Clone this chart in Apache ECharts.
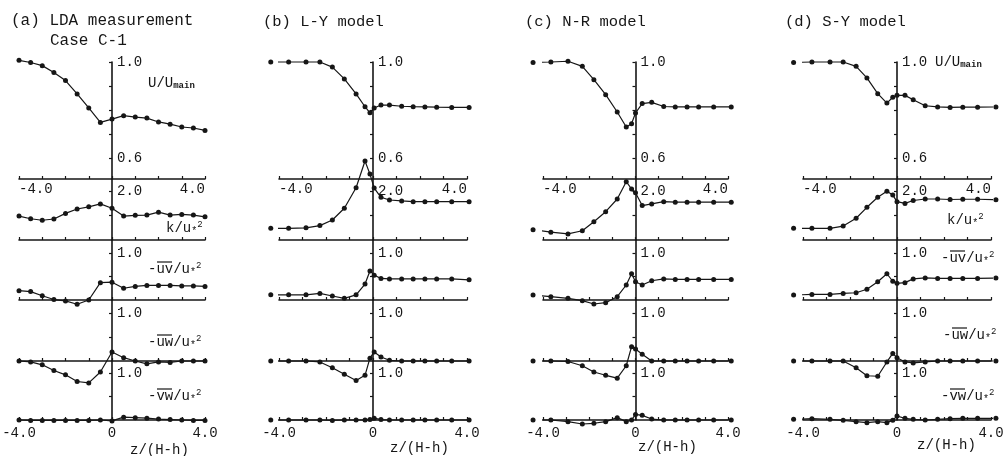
<!DOCTYPE html>
<html>
<head>
<meta charset="utf-8">
<title>Mixing layer profiles</title>
<script src="https://cdn.jsdelivr.net/npm/echarts@6/dist/echarts.min.js"></script>
<style>
  html, body { margin: 0; padding: 0; background: #fff; }
  #chart { width: 1003px; height: 456px; }
</style>
</head>
<body>
<div id="chart"></div>
<script>
// z/(H-h) positions and profiles
// (a) LDA measurement
var zA = [-4, -3.5, -3, -2.5, -2, -1.5, -1, -0.5, 0, 0.5, 1, 1.5, 2, 2.5, 3, 3.5, 4];
var uA = [1.007, 0.998, 0.985, 0.957, 0.923, 0.868, 0.81, 0.75, 0.764, 0.778, 0.772, 0.768, 0.752, 0.743, 0.731, 0.727, 0.717];
var kA = [0.98, 0.87, 0.81, 0.86, 1.09, 1.27, 1.36, 1.48, 1.3, 0.98, 1.01, 1.02, 1.14, 1.02, 1.05, 1.02, 0.95];
var uvA = [0.2, 0.18, 0.09, 0.01, -0.02, -0.09, 0, 0.37, 0.38, 0.25, 0.29, 0.31, 0.31, 0.31, 0.3, 0.3, 0.29];
var uwA = [0, -0.02, -0.08, -0.2, -0.29, -0.43, -0.46, -0.23, 0.19, 0.07, 0, -0.06, -0.02, -0.03, 0, 0, 0];
var vwA = [0, -0.01, -0.01, -0.01, -0.01, -0.01, -0.01, 0, -0.02, 0.06, 0.05, 0.04, 0.02, 0.01, 0, -0.01, -0.01];

// (b) L-Y model
var zB = [-4.35, -3.59, -2.85, -2.26, -1.73, -1.22, -0.72, -0.34, -0.13, 0.05, 0.34, 0.7, 1.22, 1.71, 2.21, 2.71, 3.35, 4.09];
var uB = [1.0, 1.0, 1.0, 1.0, 0.979, 0.93, 0.868, 0.815, 0.79, 0.81, 0.822, 0.822, 0.817, 0.815, 0.814, 0.813, 0.812, 0.812];
var kB = [0.48, 0.48, 0.5, 0.59, 0.82, 1.3, 2.14, 3.24, 2.7, 2.13, 1.75, 1.64, 1.6, 1.57, 1.57, 1.57, 1.57, 1.57];
var uvB = [0.11, 0.11, 0.11, 0.14, 0.085, 0.036, 0.11, 0.34, 0.62, 0.53, 0.46, 0.45, 0.45, 0.45, 0.45, 0.45, 0.45, 0.43];
var uwB = [0, 0, 0, -0.02, -0.14, -0.28, -0.41, -0.3, 0.06, 0.19, 0.085, 0.015, 0, 0, 0, 0, 0, 0];
var vwB = [0, 0, 0, 0, -0.01, 0, 0, 0, 0.01, 0.04, 0.01, 0, 0, 0, 0, 0, 0, 0];

// (c) N-R model
var zC = [-4.43, -3.66, -2.92, -2.3, -1.8, -1.29, -0.79, -0.4, -0.17, 0, 0.29, 0.7, 1.22, 1.72, 2.23, 2.73, 3.38, 4.14];
var uC = [0.998, 1.0, 1.003, 0.982, 0.927, 0.865, 0.793, 0.731, 0.745, 0.789, 0.828, 0.833, 0.816, 0.814, 0.814, 0.814, 0.814, 0.814];
var kC = [0.42, 0.32, 0.25, 0.38, 0.75, 1.16, 1.68, 2.39, 2.09, 1.94, 1.41, 1.48, 1.57, 1.55, 1.55, 1.55, 1.55, 1.55];
var uvC = [0.107, 0.07, 0.036, -0.014, -0.085, -0.057, 0.07, 0.32, 0.56, 0.39, 0.32, 0.41, 0.45, 0.44, 0.44, 0.44, 0.44, 0.44];
var uwC = [0, 0, -0.01, -0.1, -0.23, -0.3, -0.36, -0.1, 0.3, 0.25, 0.14, 0, 0, 0, 0, 0, 0, 0];
var vwC = [0, 0, -0.035, -0.085, -0.07, -0.035, 0.05, -0.035, 0, 0.12, 0.1, 0.02, 0, 0, 0, 0, 0, 0];

// (d) S-Y model
var zD = [-4.4, -3.62, -2.85, -2.29, -1.74, -1.28, -0.82, -0.43, -0.18, 0, 0.34, 0.69, 1.2, 1.73, 2.26, 2.8, 3.43, 4.21];
var uD = [0.998, 1.0, 1.0, 1.0, 0.982, 0.934, 0.869, 0.83, 0.854, 0.862, 0.862, 0.844, 0.819, 0.814, 0.812, 0.813, 0.813, 0.814];
var kD = [0.48, 0.48, 0.48, 0.57, 0.89, 1.34, 1.75, 2.0, 1.84, 1.57, 1.5, 1.62, 1.68, 1.68, 1.66, 1.67, 1.67, 1.65];
var uvD = [0.106, 0.12, 0.12, 0.14, 0.155, 0.23, 0.39, 0.56, 0.4, 0.355, 0.37, 0.45, 0.47, 0.46, 0.46, 0.46, 0.46, 0.47];
var uwD = [0, 0, 0, 0, -0.14, -0.31, -0.32, -0.02, 0.16, 0.07, -0.02, -0.04, -0.02, 0, 0, 0, 0, 0];
var vwD = [0.014, 0.028, 0.014, -0.007, -0.035, -0.057, -0.035, -0.057, -0.007, 0.085, 0.035, 0.014, 0, 0.014, 0.028, 0.035, 0.035, 0.035];

var titles = ['(a) LDA measurement', '(b) L-Y model', '(c) N-R model', '(d) S-Y model'];

// y axis ranges, labelled values and tick values for the five stacked rows
var rowRange = [[0.516, 1.0], [0, 2.5], [0, 1.28], [0, 1.28], [0, 1.26]];
var rowLabels = [[0.6, 1.0], [2.0], [1.0], [1.0], [1.0]];
var rowTicks = [[0.6, 0.7, 0.8, 0.9, 1.0], [1.0, 2.0], [0.5, 1.0], [0.5, 1.0], [0.5, 1.0]];
var zTicks = [-4, -3, -2, -1, 0, 1, 2, 3, 4];

var panels = [
  { z: zA, rows: [uA, kA, uvA, uwA, vwA] },
  { z: zB, rows: [uB, kB, uvB, uwB, vwB] },
  { z: zC, rows: [uC, kC, uvC, uwC, vwC] },
  { z: zD, rows: [uD, kD, uvD, uwD, vwD] }
];

// layout (pixels)
var panelX = [[19, 205], [279, 467], [543, 728], [803, 991]];
var rowBands = [[62, 179], [179, 240], [240, 300], [300, 361], [361, 420]];

var ink = '#161616';
var mono = '"Liberation Mono", "DejaVu Sans Mono", monospace';

var grids = [], xAxes = [], yAxes = [], series = [];

panels.forEach(function (p, pi) {
  var w = panelX[pi][1] - panelX[pi][0];
  p.rows.forEach(function (vals, ri) {
    var idx = pi * 5 + ri;
    grids.push({
      left: panelX[pi][0],
      width: w,
      top: rowBands[ri][0],
      height: rowBands[ri][1] - rowBands[ri][0],
      containLabel: false,
      outerBoundsMode: 'none'
    });

    var xLabel = { show: false };
    if (ri === 0) {
      xLabel = {
        show: true, customValues: [-4, 4], margin: 3,
        alignMinLabel: 'left', alignMaxLabel: 'right',
        formatter: function (v) { return v.toFixed(1); },
        fontFamily: mono, fontSize: 14, color: ink
      };
    } else if (ri === 4) {
      xLabel = {
        show: true, customValues: [-4, 0, 4], margin: 6,
        formatter: function (v) { return v === 0 ? '0' : v.toFixed(1); },
        fontFamily: mono, fontSize: 14, color: ink
      };
    }
    xAxes.push({
      type: 'value', gridIndex: idx, min: -4, max: 4, interval: 1,
      axisLine: { onZero: true, lineStyle: { color: ink, width: 1.6 } },
      axisTick: { show: true, inside: true, length: 3, customValues: zTicks, lineStyle: { color: ink, width: 1.2 } },
      splitLine: { show: false },
      axisLabel: xLabel
    });

    // the vertical axis sits at z = 0, the middle of the grid
    yAxes.push({
      type: 'value', gridIndex: idx, min: rowRange[ri][0], max: rowRange[ri][1],
      position: 'left', offset: -w / 2,
      axisLine: { onZero: false, lineStyle: { color: ink, width: 1.6 } },
      axisTick: { customValues: rowTicks[ri], length: 3, lineStyle: { color: ink, width: 1.2 } },
      splitLine: { show: false },
      axisLabel: {
        inside: true, customValues: rowLabels[ri], margin: 5,
        formatter: function (v) { return v.toFixed(1); },
        fontFamily: mono, fontSize: 14, color: ink
      }
    });

    series.push({
      type: 'line', xAxisIndex: idx, yAxisIndex: idx,
      data: p.z.map(function (z, i) { return [z, vals[i]]; }),
      symbol: 'circle', symbolSize: 5, clip: false, silent: true,
      lineStyle: { color: ink, width: 1.2 },
      itemStyle: { color: ink }
    });
  });
});

// text labels
var rich = {
  n: { fontFamily: mono, fontSize: 14, fill: ink },
  main: { fontFamily: mono, fontSize: 9, fontWeight: 'bold', fill: ink, padding: [6, 0, 0, 0] },
  sub: { fontFamily: mono, fontSize: 10, fill: ink, padding: [6, 0, 0, 0] },
  sup: { fontFamily: mono, fontSize: 9, fill: ink, padding: [0, 0, 7, 0] }
};
function label(x, y, text) {
  return { type: 'text', x: x, y: y, style: { text: text, rich: rich, align: 'left', verticalAlign: 'middle' } };
}
function bar(x, y) {
  // overline across the two velocity components, e.g. -uv
  return { type: 'line', shape: { x1: x + 9, y1: y - 7, x2: x + 24, y2: y - 7 }, style: { stroke: ink, lineWidth: 1.2 } };
}
function plain(x, y, text, size) {
  return { type: 'text', x: x, y: y, style: { text: text, fontFamily: mono, fontSize: size, fill: ink, align: 'left', verticalAlign: 'middle' } };
}

var graphics = [
  plain(11, 21, titles[0], 16),
  plain(50, 41, 'Case C-1', 16),
  plain(263, 22, titles[1], 15.5),
  plain(525, 22, titles[2], 15.5),
  plain(785, 22, titles[3], 15.5),
  plain(130, 450, 'z/(H-h)', 14),
  plain(390, 448, 'z/(H-h)', 14),
  plain(638, 447, 'z/(H-h)', 14),
  plain(917, 445, 'z/(H-h)', 14)
];

// row quantity labels in panels (a) and (d)
[[148, 166, 148, 148, 148, [83, 228, 269, 342, 396]],
 [935, 947, 941, 943, 941, [62, 220, 258, 335, 396]]].forEach(function (L) {
  var ys = L[5];
  graphics.push(label(L[0], ys[0], '{n|U/U}{main|main}'));
  graphics.push(label(L[1], ys[1], '{n|k/u}{sub|*}{sup|2}'));
  graphics.push(label(L[2], ys[2], '{n|-uv/u}{sub|*}{sup|2}'));
  graphics.push(bar(L[2], ys[2]));
  graphics.push(label(L[3], ys[3], '{n|-uw/u}{sub|*}{sup|2}'));
  graphics.push(bar(L[3], ys[3]));
  graphics.push(label(L[4], ys[4], '{n|-vw/u}{sub|*}{sup|2}'));
  graphics.push(bar(L[4], ys[4]));
});

var chart = echarts.init(document.getElementById('chart'), null, { renderer: 'canvas' });
chart.setOption({
  animation: false,
  backgroundColor: '#fff',
  grid: grids,
  xAxis: xAxes,
  yAxis: yAxes,
  series: series,
  graphic: graphics
});
</script>
</body>
</html>
